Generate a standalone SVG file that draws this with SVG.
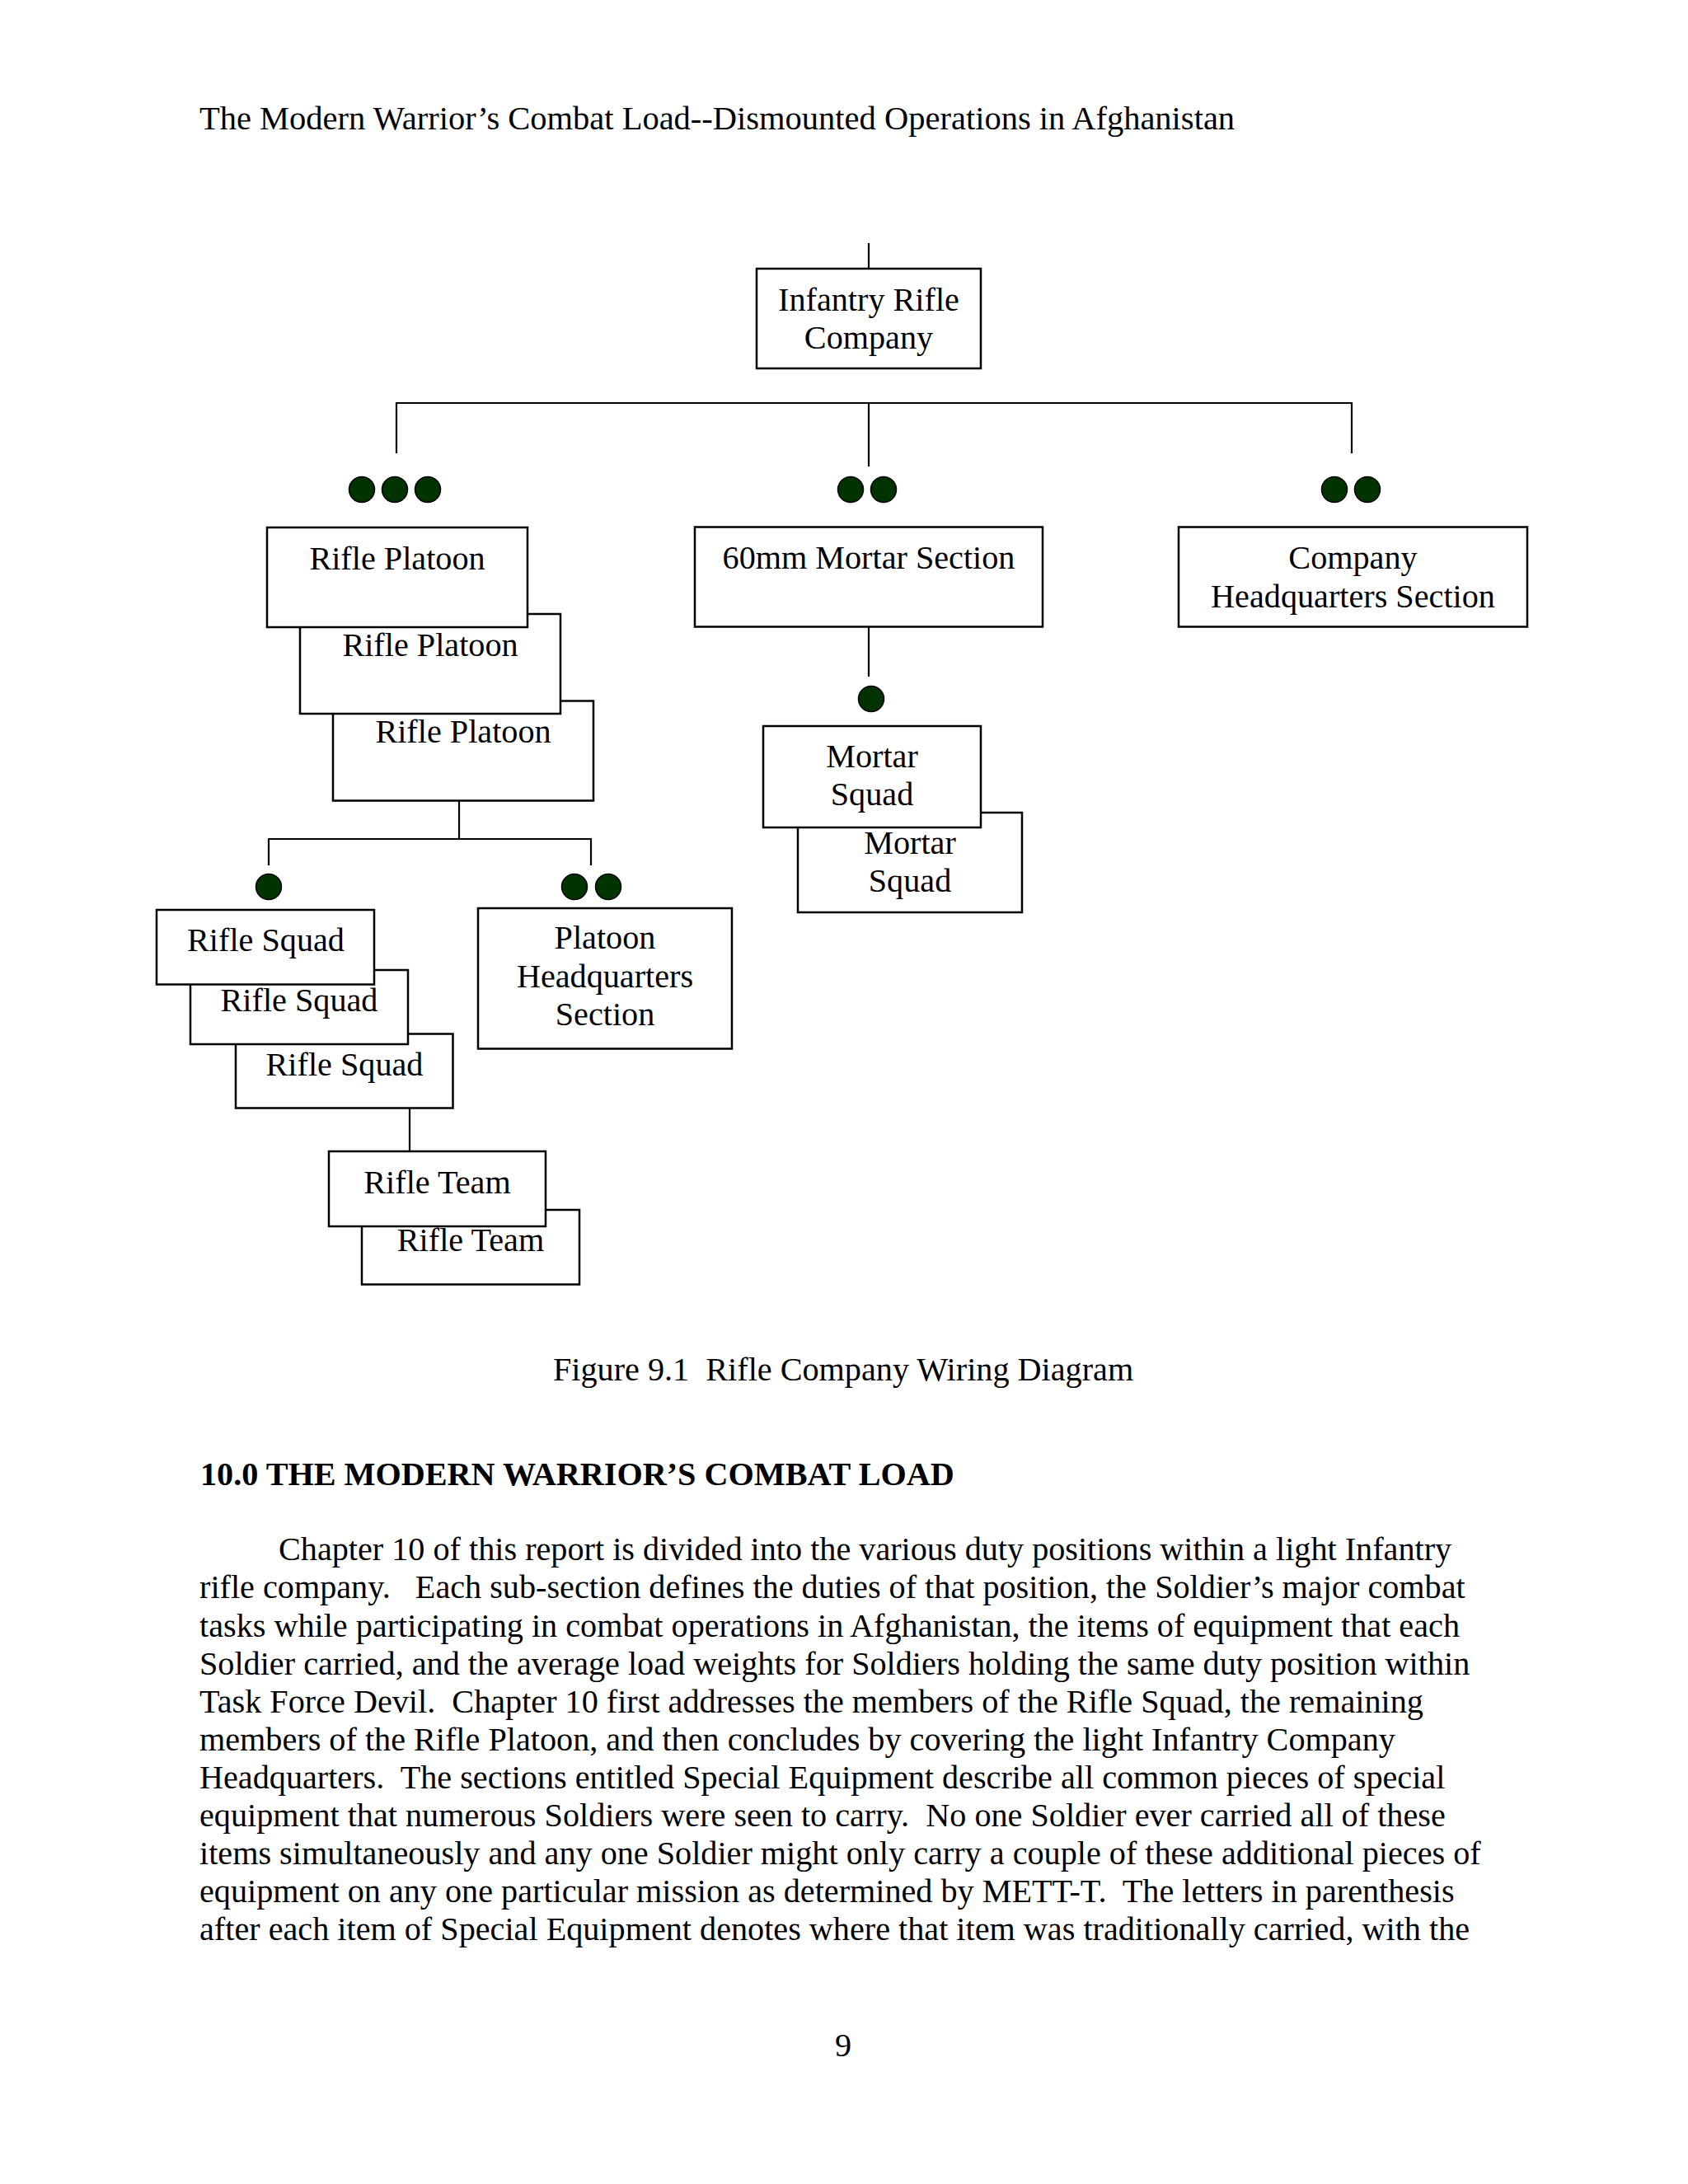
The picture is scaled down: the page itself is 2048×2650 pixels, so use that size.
<svg xmlns="http://www.w3.org/2000/svg" width="2048" height="2650" viewBox="0 0 2048 2650">
<style>
text{font-family:"Liberation Serif","Times New Roman",serif;font-size:40.2px;fill:#000;white-space:pre}
.c{text-anchor:middle}
.b{font-weight:bold}
.hd{font-size:40.5px}
.box{fill:#fff;stroke:#000;stroke-width:2.5}
.ln{stroke:#000;stroke-width:2.2;fill:none}
.dot{fill:#003300;stroke:#000;stroke-width:1.5}
</style>
<rect x="0" y="0" width="2048" height="2650" fill="#fff"/>
<text class="hd" x="242" y="157" xml:space="preserve">The Modern Warrior’s Combat Load--Dismounted Operations in Afghanistan</text>

<g id="connectors">
<path class="ln" d="M1054 295V326"/>
<path class="ln" d="M481 550V489H1640V550"/>
<path class="ln" d="M1054 489V566"/>
<path class="ln" d="M1054 761V821"/>
<path class="ln" d="M557 971V1018"/>
<path class="ln" d="M326 1050V1018H717V1050"/>
<path class="ln" d="M497 1345V1397"/>
</g>

<g id="dots">
<circle class="dot" cx="439" cy="594" r="15.5"/>
<circle class="dot" cx="479" cy="594" r="15.5"/>
<circle class="dot" cx="519" cy="594" r="15.5"/>
<circle class="dot" cx="1032" cy="594" r="15.5"/>
<circle class="dot" cx="1072" cy="594" r="15.5"/>
<circle class="dot" cx="1619" cy="594" r="15.5"/>
<circle class="dot" cx="1659" cy="594" r="15.5"/>
<circle class="dot" cx="1057" cy="848" r="15.5"/>
<circle class="dot" cx="326" cy="1076" r="15.5"/>
<circle class="dot" cx="697" cy="1076" r="15.5"/>
<circle class="dot" cx="738" cy="1076" r="15.5"/>
</g>

<g id="company">
<rect class="box" x="918" y="326" width="272" height="121"/>
<text class="c" x="1054" y="377">Infantry Rifle</text>
<text class="c" x="1054" y="423">Company</text>
</g>

<g id="rifle-platoon-3">
<rect class="box" x="404" y="850.5" width="316" height="121"/>
<text class="c" x="562" y="901">Rifle Platoon</text>
</g>
<g id="rifle-platoon-2">
<rect class="box" x="364" y="745" width="316" height="121"/>
<text class="c" x="522" y="796">Rifle Platoon</text>
</g>
<g id="rifle-platoon-1">
<rect class="box" x="324" y="640" width="316" height="121"/>
<text class="c" x="482" y="690.5">Rifle Platoon</text>
</g>

<g id="mortar-section">
<rect class="box" x="843" y="639.5" width="422" height="121"/>
<text class="c" x="1054" y="690">60mm Mortar Section</text>
</g>

<g id="company-hq">
<rect class="box" x="1430" y="639.5" width="423" height="121"/>
<text class="c" x="1641.5" y="690">Company</text>
<text class="c" x="1641.5" y="736.5">Headquarters Section</text>
</g>

<g id="mortar-squad-2">
<rect class="box" x="968" y="986" width="272" height="121"/>
<text class="c" x="1104" y="1036">Mortar</text>
<text class="c" x="1104" y="1082">Squad</text>
</g>
<g id="mortar-squad-1">
<rect class="box" x="926" y="881" width="264" height="123"/>
<text class="c" x="1058" y="931">Mortar</text>
<text class="c" x="1058" y="977">Squad</text>
</g>

<g id="rifle-squad-3">
<rect class="box" x="286" y="1254.5" width="263.5" height="90"/>
<text class="c" x="418" y="1305">Rifle Squad</text>
</g>
<g id="rifle-squad-2">
<rect class="box" x="231" y="1177" width="264" height="90"/>
<text class="c" x="363" y="1227">Rifle Squad</text>
</g>
<g id="rifle-squad-1">
<rect class="box" x="190" y="1104" width="264" height="90.5"/>
<text class="c" x="322.5" y="1154">Rifle Squad</text>
</g>

<g id="platoon-hq">
<rect class="box" x="580" y="1102" width="308" height="170.5"/>
<text class="c" x="734" y="1151">Platoon</text>
<text class="c" x="734" y="1197.5">Headquarters</text>
<text class="c" x="734" y="1244">Section</text>
</g>

<g id="rifle-team-2">
<rect class="box" x="439" y="1468" width="264" height="90.5"/>
<text class="c" x="571" y="1518">Rifle Team</text>
</g>
<g id="rifle-team-1">
<rect class="box" x="399" y="1397" width="263" height="91"/>
<text class="c" x="530.5" y="1448">Rifle Team</text>
</g>

<text x="671" y="1675" xml:space="preserve">Figure 9.1  Rifle Company Wiring Diagram</text>
<text class="b" x="243" y="1802" xml:space="preserve">10.0 THE MODERN WARRIOR’S COMBAT LOAD</text>

<g id="body" xml:space="preserve">
<text x="338" y="1893.3">Chapter 10 of this report is divided into the various duty positions within a light Infantry</text>
<text x="242" y="1939.4">rifle company.   Each sub-section defines the duties of that position, the Soldier’s major combat</text>
<text x="242" y="1985.5">tasks while participating in combat operations in Afghanistan, the items of equipment that each</text>
<text x="242" y="2031.6">Soldier carried, and the average load weights for Soldiers holding the same duty position within</text>
<text x="242" y="2077.7">Task Force Devil.  Chapter 10 first addresses the members of the Rifle Squad, the remaining</text>
<text x="242" y="2123.8">members of the Rifle Platoon, and then concludes by covering the light Infantry Company</text>
<text x="242" y="2169.9">Headquarters.  The sections entitled Special Equipment describe all common pieces of special</text>
<text x="242" y="2216">equipment that numerous Soldiers were seen to carry.  No one Soldier ever carried all of these</text>
<text x="242" y="2262.1">items simultaneously and any one Soldier might only carry a couple of these additional pieces of</text>
<text x="242" y="2308.2">equipment on any one particular mission as determined by METT-T.  The letters in parenthesis</text>
<text x="242" y="2354.3">after each item of Special Equipment denotes where that item was traditionally carried, with the</text>
</g>

<text class="c" x="1023" y="2495">9</text>
</svg>
